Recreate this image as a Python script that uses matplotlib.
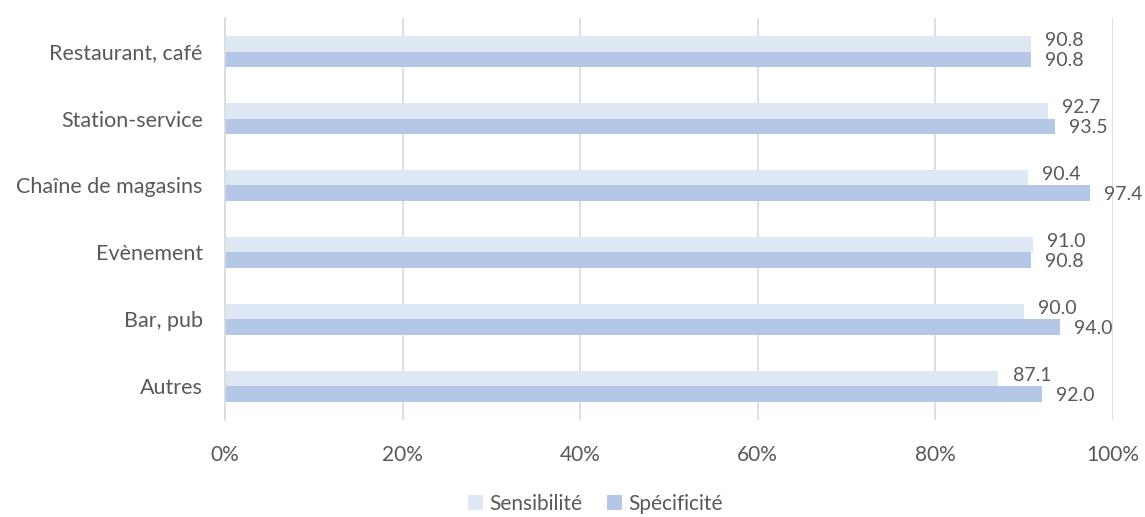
import matplotlib.pyplot as plt
import numpy as np
from matplotlib.ticker import FuncFormatter

plt.rcParams['font.family'] = ['Lato', 'DejaVu Sans']

categories = ["Restaurant, café", "Station-service", "Chaîne de magasins",
              "Evènement", "Bar, pub", "Autres"]
sensibilite = [90.8, 92.7, 90.4, 91.0, 90.0, 87.1]
specificite = [90.8, 93.5, 97.4, 90.8, 94.0, 92.0]

c_sens = "#DEE8F5"
c_spec = "#B4C7E7"
txt = "#595959"
fs = 15.5

fig = plt.figure(figsize=(11.45, 5.17), dpi=100)
ax = fig.add_axes([0.1965, 0.188, 0.7755, 0.777])

y = np.arange(len(categories))[::-1]
h = 0.235
ax.barh(y + h / 2, sensibilite, height=h, color=c_sens, label="Sensibilité", zorder=2)
ax.barh(y - h / 2, specificite, height=h, color=c_spec, label="Spécificité", zorder=2)

# value labels just right of each bar, nudged apart so the pair doesn't collide
for yi, s, p in zip(y, sensibilite, specificite):
    ax.text(s + 1.6, yi + h / 2 + 0.05, "%.1f" % s, va="center", ha="left",
            fontsize=14, color=txt)
    ax.text(p + 1.6, yi - h / 2 - 0.02, "%.1f" % p, va="center", ha="left",
            fontsize=14, color=txt)

ax.set_xlim(0, 100)
ax.set_ylim(-0.5, len(categories) - 0.5)
ax.set_xticks(np.arange(0, 101, 20))
ax.xaxis.set_major_formatter(FuncFormatter(lambda v, pos: "%d%%" % v))
ax.set_yticks(y)
ax.set_yticklabels(categories)
ax.tick_params(axis="x", length=0, pad=18, labelsize=15, labelcolor=txt)
ax.tick_params(axis="y", length=0, pad=16, labelsize=fs, labelcolor=txt)
ax.grid(axis="x", color="#D9D9D9", linewidth=1.2, zorder=0)
for side in ["top", "right", "bottom"]:
    ax.spines[side].set_visible(False)
ax.spines["left"].set_color("#D9D9D9")
ax.spines["left"].set_linewidth(1.2)

fig.legend(loc="lower center", bbox_to_anchor=(0.52, -0.03), ncol=2, frameon=False,
           fontsize=15, labelcolor=txt, handlelength=0.7, handleheight=0.7,
           handletextpad=0.3, columnspacing=1.2)

fig.savefig("out.png", dpi=100)
